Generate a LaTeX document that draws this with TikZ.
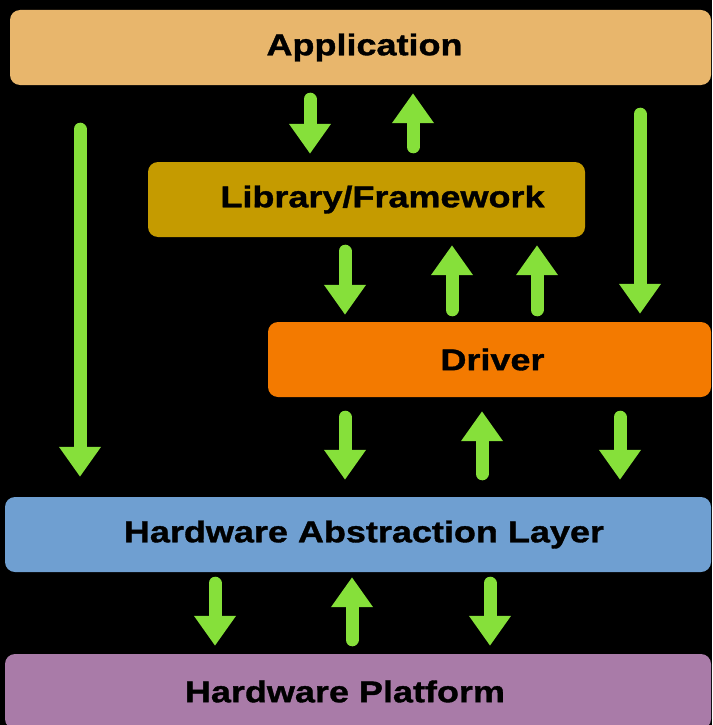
\documentclass[tikz,border=0pt]{standalone}
\usepackage{fontspec}
\newfontfamily\boxfont[FakeStretch=1.2,FakeBold=1.2]{Liberation Sans}
\usetikzlibrary{arrows.meta}
\definecolor{appcol}{HTML}{E8B66C}
\definecolor{libcol}{HTML}{C59B00}
\definecolor{drvcol}{HTML}{F37A00}
\definecolor{halcol}{HTML}{6F9FD1}
\definecolor{hwcol}{HTML}{A97BA8}
\definecolor{flowgreen}{HTML}{86E03A}

\begin{document}
\begin{tikzpicture}[x=1pt,y=-1pt,
  layer/.style={rounded corners=10pt,inner sep=0pt,minimum height=75pt},
  lbl/.style={font=\boxfont\bfseries\fontsize{30}{36}\selectfont,text=black},
  flow/.style={draw=flowgreen,line width=13pt,line cap=round,
    -{Triangle[width=40pt,length=30pt]},shorten <=14pt,shorten >=8pt}]
\fill[black] (0,0) rectangle (712,725);
\clip (0,0) rectangle (712,725);

\node[layer,fill=appcol,minimum width=701pt,label={[lbl,xshift=4pt]center:Application}] (app) at (360.5,47.5) {};
\node[layer,fill=libcol,minimum width=437pt,label={[lbl,xshift=16pt]center:Library/Framework}] (lib) at (366.5,199.5) {};
\node[layer,fill=drvcol,minimum width=443pt,label={[lbl,xshift=3pt]center:Driver}] (drv) at (489.5,359.5) {};
\node[layer,fill=halcol,minimum width=706pt,label={[lbl,xshift=6pt]center:Hardware Abstraction Layer}] (hal) at (358,534.5) {};
\node[layer,fill=hwcol,minimum width=706pt,label={[lbl,xshift=-13pt]center:Hardware Platform}] (hw) at (358,691.5) {};

% application <-> library
\draw[flow] (app.south -| 310,0) -- (lib.north -| 310,0);
\draw[flow,shorten <=15pt] (lib.north -| 413,0) -- (app.south -| 413,0);
% library <-> driver
\draw[flow,shorten >=7pt] (lib.south -| 345,0) -- (drv.north -| 345,0);
\foreach \x in {452,537}
\draw[flow,shorten <=12pt] (drv.north -| \x,0) -- (lib.south -| \x,0);
% long paths
\draw[flow,shorten <=44pt,shorten >=20pt] (app.south -| 80,0) -- (hal.north -| 80,0);
\draw[flow,shorten <=29pt] (app.south -| 640,0) -- (drv.north -| 640,0);
% driver <-> hal
\foreach \x in {345,620}
\draw[flow,shorten <=20pt,shorten >=17pt] (drv.south -| \x,0) -- (hal.north -| \x,0);
\draw[flow,shorten <=23pt,shorten >=14pt] (hal.north -| 482,0) -- (drv.south -| 482,0);
% hal <-> platform
\foreach \x in {215,490}
\draw[flow,shorten <=11pt] (hal.south -| \x,0) -- (hw.north -| \x,0);
\draw[flow,shorten >=5pt] (hw.north -| 352,0) -- (hal.south -| 352,0);
\end{tikzpicture}
\end{document}
